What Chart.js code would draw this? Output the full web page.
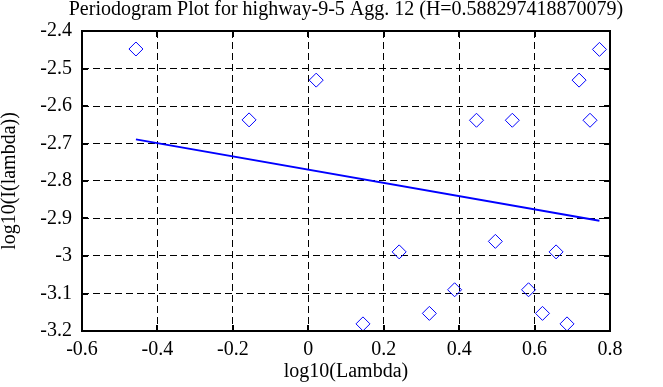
<!DOCTYPE html>
<html>
<head>
<meta charset="utf-8">
<script src="https://cdn.jsdelivr.net/npm/chart.js@4"></script>
<style>
  html, body { margin: 0; padding: 0; background: #fff; }
  #wrap { width: 663px; height: 387px; position: relative; }
</style>
</head>
<body>
<div id="wrap"><canvas id="chart"></canvas></div>
<script>
const TITLE = 'Periodogram Plot for highway-9-5 Agg. 12 (H=0.588297418870079)';
const X_LABEL = 'log10(Lambda)';
const Y_LABEL = 'log10(I(lambda))';

// periodogram points
const logLambda = [-0.457, -0.157, 0.021, 0.145, 0.241, 0.321, 0.388, 0.446, 0.496,
                   0.541, 0.584, 0.621, 0.657, 0.686, 0.718, 0.747, 0.772];
const logI = [-2.448, -2.637, -2.531, -3.181, -2.989, -3.153, -3.090, -2.638, -2.961,
              -2.638, -3.090, -3.153, -2.989, -3.181, -2.531, -2.638, -2.449];

// fitted line end points
const fitX = [-0.457, 0.772];
const fitY = [-2.689, -2.906];

const xTicks = [-0.6, -0.4, -0.2, 0, 0.2, 0.4, 0.6, 0.8];
const yTicks = [-3.2, -3.1, -3, -2.9, -2.8, -2.7, -2.6, -2.5, -2.4];

const FONT = "'Liberation Serif', 'Times New Roman', serif";

function fmt(v) {
  return String(parseFloat(Number(v).toFixed(2)));
}

// box around the plot with small inward ticks, title centred over the plot
const frame = {
  id: 'frame',
  afterDatasetsDraw(chart) {
    const { ctx, chartArea: a, scales } = chart;
    const len = 6;
    ctx.save();
    ctx.strokeStyle = '#000';
    ctx.lineWidth = 2;
    ctx.beginPath();
    xTicks.forEach(v => {
      const px = Math.round(scales.x.getPixelForValue(v));
      ctx.moveTo(px, a.top); ctx.lineTo(px, a.top + len);
      ctx.moveTo(px, a.bottom); ctx.lineTo(px, a.bottom - len);
    });
    yTicks.forEach(v => {
      const py = Math.round(scales.y.getPixelForValue(v));
      ctx.moveTo(a.left, py); ctx.lineTo(a.left + len, py);
      ctx.moveTo(a.right, py); ctx.lineTo(a.right - len, py);
    });
    ctx.stroke();
    ctx.strokeRect(a.left, a.top, a.right - a.left, a.bottom - a.top);

    ctx.fillStyle = '#000';
    ctx.font = '20px ' + FONT;
    ctx.textAlign = 'center';
    ctx.textBaseline = 'alphabetic';
    ctx.fillText(TITLE, (a.left + a.right) / 2, 15);
    ctx.restore();
  }
};

const points = logLambda.map((x, i) => ({ x: x, y: logI[i] }));
const fit = fitX.map((x, i) => ({ x: x, y: fitY[i] }));

new Chart(document.getElementById('chart'), {
  type: 'scatter',
  data: {
    datasets: [
      {
        data: points,
        pointStyle: 'rectRot',
        pointRadius: 7,
        pointBorderWidth: 1,
        pointBorderColor: '#0000ff',
        pointBackgroundColor: 'rgba(0,0,0,0)'
      },
      {
        data: fit,
        showLine: true,
        borderColor: '#0000ff',
        borderWidth: 2,
        pointRadius: 0
      }
    ]
  },
  options: {
    responsive: true,
    maintainAspectRatio: false,
    animation: false,
    layout: { padding: { left: 0, right: 53, top: 31, bottom: 0 } },
    plugins: {
      legend: { display: false },
      tooltip: { enabled: false },
      title: { display: false }
    },
    scales: {
      x: {
        type: 'linear',
        min: -0.6,
        max: 0.8,
        afterBuildTicks: s => { s.ticks = xTicks.map(v => ({ value: v })); },
        afterFit: s => { s.height = 56; },
        ticks: {
          color: '#000',
          padding: 7,
          maxRotation: 0,
          font: { family: FONT, size: 20 },
          callback: v => fmt(v)
        },
        grid: { color: '#000', lineWidth: 1, drawTicks: false },
        border: { display: false, dash: [7, 4] },
        title: {
          display: true,
          text: X_LABEL,
          color: '#000',
          font: { family: FONT, size: 20, lineHeight: 1 },
          padding: { top: 0, bottom: 5 }
        }
      },
      y: {
        type: 'linear',
        min: -3.2,
        max: -2.4,
        afterBuildTicks: s => { s.ticks = yTicks.map(v => ({ value: v })); },
        afterFit: s => { s.width = 82; },
        ticks: {
          color: '#000',
          padding: 10,
          font: { family: FONT, size: 20 },
          callback: v => fmt(v)
        },
        grid: { color: '#000', lineWidth: 1, drawTicks: false },
        border: { display: false, dash: [7, 4] },
        title: {
          display: true,
          text: Y_LABEL,
          color: '#000',
          font: { family: FONT, size: 20, lineHeight: 1 },
          padding: { top: 0, bottom: 0 }
        }
      }
    }
  },
  plugins: [frame]
});
</script>
</body>
</html>
